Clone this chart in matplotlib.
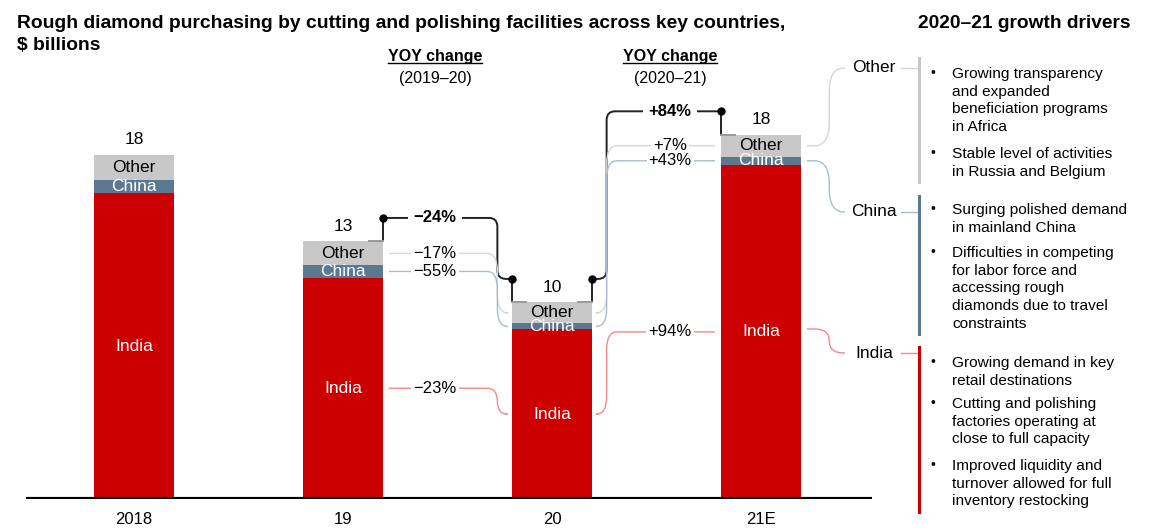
import numpy as np
import matplotlib
matplotlib.use('Agg')
import matplotlib.pyplot as plt
from matplotlib.path import Path
from matplotlib.patches import PathPatch
from matplotlib.lines import Line2D

plt.rcParams['font.family'] = ['Liberation Sans', 'DejaVu Sans']

# data ($ billions)
years = ['2018', '19', '20', '21E']
india = np.array([15.6, 11.3, 8.65, 17.05])
china = np.array([0.66, 0.62, 0.31, 0.41])
other = np.array([1.28, 1.22, 1.07, 1.12])
total_labels = ['18', '13', '10', '18']

yoy_periods = ['(2019–20)', '(2020–21)']
yoy_total = ['−24%', '+84%']
yoy_other = ['−17%', '+7%']
yoy_china = ['−55%', '+43%']
yoy_india = ['−23%', '+94%']

drivers_other = ['Growing transparency\nand expanded\nbeneficiation programs\nin Africa',
                 'Stable level of activities\nin Russia and Belgium']
drivers_china = ['Surging polished demand\nin mainland China',
                 'Difficulties in competing\nfor labor force and\naccessing rough\ndiamonds due to travel\nconstraints']
drivers_india = ['Growing demand in key\nretail destinations',
                 'Cutting and polishing\nfactories operating at\nclose to full capacity',
                 'Improved liquidity and\nturnover allowed for full\ninventory restocking']

c_india, c_china, c_other = '#CC0000', '#5B7891', '#C8C8C8'
l_india, l_china, l_other = '#F08A8A', '#A9BCCF', '#D6D6D6'

W, H = 1154, 532
fig = plt.figure(figsize=(W / 100, H / 100), dpi=100)

base_px, left_px, right_px, top_px = 499, 26, 872, 40
ppu_x, ppu_y = 209, 19.6
ax = fig.add_axes([left_px / W, (H - base_px) / H, (right_px - left_px) / W, (base_px - top_px) / H])
x = np.arange(len(years))
ax.set_xlim(-(134 - left_px) / ppu_x, 3 + (right_px - 761) / ppu_x)
ax.set_ylim(0, (base_px - top_px) / ppu_y)
w = 80 / ppu_x

ax.bar(x, india, w, color=c_india, zorder=2)
ax.bar(x, china, w, bottom=india, color=c_china, zorder=2)
ax.bar(x, other, w, bottom=india + china, color=c_other, zorder=2)
ax.axhline(0, color='black', lw=3.0, zorder=3)

for s in ax.spines.values():
    s.set_visible(False)
ax.set_yticks([])
ax.set_xticks(x, years)
ax.tick_params(axis='x', length=0, labelsize=12, pad=9)

fs = 12.5
tops = india + china + other
for i in x:
    ax.text(i, india[i] / 2, 'India', ha='center', va='center', color='white', fontsize=fs, zorder=4)
    ax.text(i, india[i] + china[i] / 2, 'China', ha='center', va='center', color='white', fontsize=fs, zorder=4)
    ax.text(i, india[i] + china[i] + other[i] / 2, 'Other', ha='center', va='center', color='black', fontsize=fs, zorder=4)
    ax.text(i, tops[i] + 0.78, total_labels[i], ha='center', va='center', fontsize=fs)


def elbow(x0, y0, x1, y1, xm, color, lw, rx=0.04, ry=0.45):
    s = np.sign(y1 - y0)
    ry = min(ry, abs(y1 - y0) / 2)
    verts = [(x0, y0), (xm - rx, y0), (xm, y0), (xm, y0 + s * ry), (xm, y1 - s * ry),
             (xm, y1), (xm + rx, y1), (x1, y1)]
    codes = [Path.MOVETO, Path.LINETO, Path.CURVE3, Path.CURVE3, Path.LINETO,
             Path.CURVE3, Path.CURVE3, Path.LINETO]
    ax.add_patch(PathPatch(Path(verts, codes), fc='none', ec=color, lw=lw, clip_on=False, zorder=1))


off = 1.2
gap = 6 / ppu_x
tick = 14 / ppu_x
mid_other = india + china + other / 2
mid_china = india + china / 2
mid_india = india / 2
for k in range(2):
    a, b = k + 1, k + 2
    tall_left = tops[a] > tops[b]
    xa, xb = a + w / 2, b - w / 2
    # bend near the lower bar, label near the taller bar
    xm = xb - 0.07 if tall_left else xa + 0.07
    xl = (a + b) / 2 + (-0.06 if tall_left else 0.065)
    ya, yb = tops[a] + off, tops[b] + off
    # totals connector
    elbow(xa, ya, xb, yb, xm, '#222222', 1.4)
    for xe, tp, sgn in [(xa, tops[a], -1), (xb, tops[b], 1)]:
        ax.plot([xe, xe], [tp, tp + off], color='#222222', lw=1.4, clip_on=False, zorder=1)
        ax.plot([xe, xe + sgn * tick], [tp, tp], color='#999999', lw=1.4, zorder=3)
        ax.plot(xe, tp + off, 'o', color='black', ms=5, clip_on=False, zorder=3)
    ylab = max(ya, yb)
    ax.text(xl, ylab, yoy_total[k], ha='center', va='center', fontsize=12, fontweight='bold',
            bbox=dict(fc='white', ec='none', pad=4), zorder=5)
    # segment connectors
    for mids, col, lab in [(mid_other, l_other, yoy_other), (mid_china, l_china, yoy_china),
                           (mid_india, l_india, yoy_india)]:
        elbow(xa + gap, mids[a], xb - gap, mids[b], xm, col, 1.0, rx=0.05, ry=0.9)
        yl = mids[a] if tall_left else mids[b]
        ax.text(xl, yl, lab[k], ha='center', va='center', fontsize=12,
                bbox=dict(fc='white', ec='none', pad=1.5), zorder=5)
    # header
    hx = ax.transData.transform((xl, 0))[0] / W
    fig.text(hx, 1 - 56 / H, 'YOY change', ha='center', va='center',
             fontsize=11.5, fontweight='bold', gid='yoy')
    fig.text(hx, 1 - 79 / H, yoy_periods[k], ha='center', va='center', fontsize=11.5)

# right panel connectors from the last bar
xr = 3 + w / 2
x_lab_end = (845 - 134) / ppu_x
groups = [('Other', mid_other[3], 68, c_other, l_other, 58, 182, drivers_other, [73, 153]),
          ('China', mid_china[3], 212, c_china, l_china, 196, 334, drivers_china, [209, 252]),
          ('India', mid_india[3] + 0.15, 353, c_india, l_india, 347, 512, drivers_india, [362, 403, 465])]
for name, ys, ly_px, cdark, clight, y0_px, y1_px, texts, ty in groups:
    ly = (base_px - ly_px) / ppu_y
    elbow(xr + gap, ys, x_lab_end, ly, (xr + x_lab_end) / 2 + 0.03, clight, 1.0, rx=0.07, ry=1.2)
    fig.text(874 / W, 1 - ly_px / H, name, ha='center', va='center', fontsize=fs)
    fig.add_artist(Line2D([901 / W, 918 / W], [1 - ly_px / H] * 2, color=clight, lw=1.0))
    fig.add_artist(Line2D([919 / W, 919 / W], [1 - y0_px / H, 1 - y1_px / H], color=cdark, lw=2.2))
    for txt, yy in zip(texts, ty):
        fig.text(933 / W, 1 - yy / H, '•', ha='center', va='center', fontsize=10)
        fig.text(952 / W, 1 - (yy - 6) / H, txt, ha='left', va='top', fontsize=11.1, linespacing=1.34)

fig.text(17 / W, 1 - 24 / H,
         'Rough diamond purchasing by cutting and polishing facilities across key countries,',
         ha='left', va='center', fontsize=13.9, fontweight='bold')
fig.text(17 / W, 1 - 46 / H, '$ billions', ha='left', va='center', fontsize=13.9, fontweight='bold')
fig.text(1024 / W, 1 - 24 / H, '2020–21 growth drivers', ha='center', va='center',
         fontsize=13.8, fontweight='bold')

# underline the YOY headers
fig.canvas.draw()
for t in [tt for tt in fig.texts if tt.get_gid() == 'yoy']:
    bb = t.get_window_extent()
    fig.add_artist(Line2D([bb.x0 / W, bb.x1 / W], [1 - 63 / H] * 2, color='black', lw=1.0))

fig.savefig('out.png', dpi=100)
